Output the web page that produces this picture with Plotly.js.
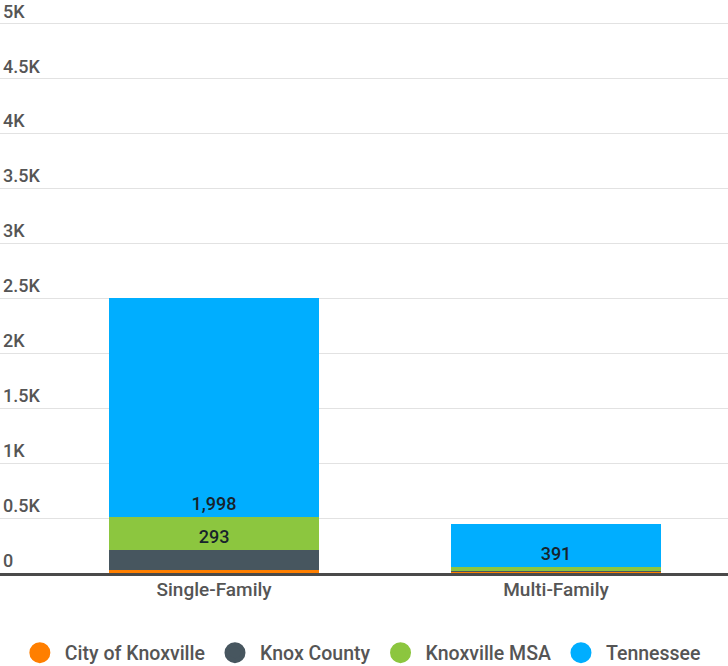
<!DOCTYPE html>
<html>
<head>
<meta charset="utf-8">
<script src="https://cdn.plot.ly/plotly-3.0.1.min.js"></script>
<style>html,body{margin:0;padding:0;background:#fff;}#chart{width:728px;height:666px;}</style>
</head>
<body>
<div id="chart"></div>
<script>
const categories = ['Single-Family', 'Multi-Family'];
const seriesNames = ['City of Knoxville', 'Knox County', 'Knoxville MSA', 'Tennessee'];
const cityOfKnoxville = [25, 6];
const knoxCounty = [189, 12];
const knoxvilleMSA = [293, 38];
const tennessee = [1998, 391];
const colors = ['#ff7f00', '#47565f', '#8cc63f', '#00aeff'];
const yTickVals = [0, 500, 1000, 1500, 2000, 2500, 3000, 3500, 4000, 4500, 5000];
const yTickText = ['0', '0.5K', '1K', '1.5K', '2K', '2.5K', '3K', '3.5K', '4K', '4.5K', '5K'];

const seriesValues = [cityOfKnoxville, knoxCounty, knoxvilleMSA, tennessee];
const LABEL_MIN = 250;

const traces = [];
seriesValues.forEach((vals, i) => {
  traces.push({
    type: 'bar',
    x: categories,
    y: vals,
    name: seriesNames[i],
    marker: {color: colors[i]},
    text: vals.map(v => v >= LABEL_MIN ? v.toLocaleString('en-US') : ''),
    textposition: 'inside',
    insidetextanchor: 'start',
    textangle: 0,
    textfont: {family: 'Roboto', size: 18, color: '#17232b', weight: 500},
    constraintext: 'none',
    showlegend: false,
    hoverinfo: 'skip'
  });
});
// legend entries with round markers
seriesNames.forEach((n, i) => {
  traces.push({
    type: 'scatter',
    mode: 'markers',
    x: [null],
    y: [null],
    name: n,
    marker: {color: colors[i], size: 16, symbol: 'circle', line: {color: colors[i], width: 8}},
    showlegend: true,
    hoverinfo: 'skip'
  });
});

const layout = {
  width: 728,
  height: 666,
  margin: {l: 0, r: 0, t: 0, b: 93, pad: 0},
  paper_bgcolor: '#ffffff',
  plot_bgcolor: '#ffffff',
  barmode: 'stack',
  bargap: 0.386,
  showlegend: true,
  font: {family: 'Roboto', color: '#555'},
  xaxis: {
    type: 'category',
    range: [-0.626, 1.503],
    showgrid: false,
    showline: true,
    linecolor: '#4a4a4a',
    linewidth: 3,
    ticks: '',
    tickfont: {family: 'Roboto', size: 19, color: '#555', weight: 500},
    ticklabelstandoff: -3,
    fixedrange: true
  },
  yaxis: {
    range: [0, 5218],
    tickvals: yTickVals,
    ticktext: yTickText,
    ticklabelposition: 'inside top',
    tickfont: {family: 'Roboto', size: 18, color: '#555', weight: 500},
    showgrid: true,
    gridcolor: '#e2e2e2',
    gridwidth: 1,
    zeroline: false,
    showline: false,
    ticks: '',
    fixedrange: true
  },
  legend: {
    orientation: 'h',
    x: 0.495,
    xanchor: 'center',
    xref: 'container',
    yref: 'container',
    y: 0.0195,
    yanchor: 'middle',
    font: {family: 'Roboto', size: 19.5, color: '#555', weight: 500},
    itemsizing: 'trace',
    itemwidth: 40,
    traceorder: 'normal'
  }
};

Plotly.newPlot('chart', traces, layout, {displayModeBar: false, staticPlot: true});
</script>
</body>
</html>
